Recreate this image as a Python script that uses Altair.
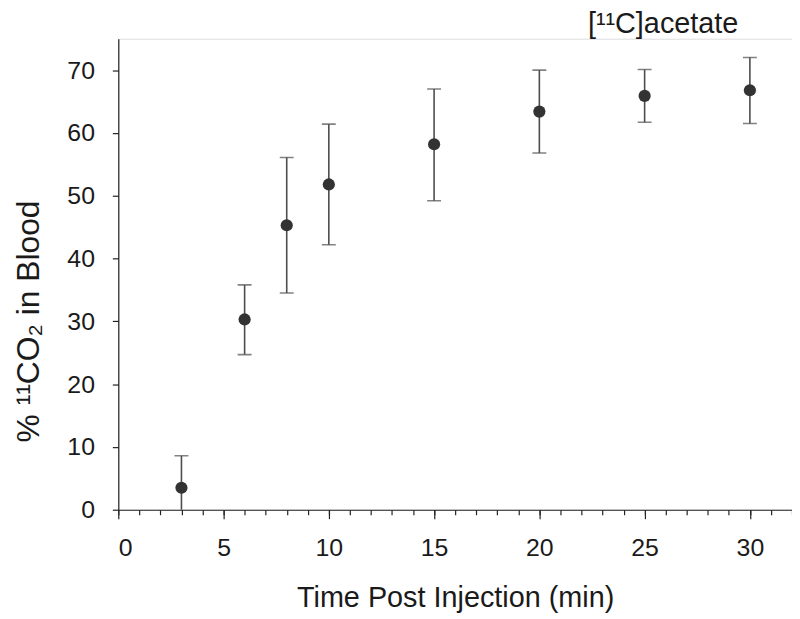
import altair as alt
import pandas as pd

# Data
times = [3, 6, 8, 10, 15, 20, 25, 30]
means = [3.5, 30.3, 45.3, 51.8, 58.2, 63.4, 65.9, 66.8]
uppers = [8.6, 35.8, 56.1, 61.4, 67.0, 70.0, 70.1, 72.0]
lowers = [-1.6, 24.7, 34.5, 42.2, 49.2, 56.8, 61.7, 61.5]

major_x_ticks = [0, 5, 10, 15, 20, 25, 30]
minor_x_ticks = list(range(0, 33))
y_ticks = [0, 10, 20, 30, 40, 50, 60, 70]

df = pd.DataFrame({"t": times, "mean": means, "hi": uppers, "lo": lowers})

FONT = "Liberation Sans"
TXT = "#1a1a1a"
BAR = "#4d4d4d"
DOT = "#333333"

xscale = alt.Scale(domain=[0, 32], nice=False, zero=False)
yscale = alt.Scale(domain=[0, 75], nice=False, zero=False)

major_axis = alt.Axis(
    orient="bottom", values=major_x_ticks, tickSize=9, tickWidth=1.2, tickColor="#222",
    domain=True, domainColor="#222", domainWidth=1.2, grid=False,
    labelFont=FONT, labelFontSize=25, labelColor=TXT, labelPadding=17,
    title="Time Post Injection (min)", titleFont=FONT, titleFontSize=29,
    titleFontWeight="normal", titleColor=TXT, titleY=97, titleBaseline="alphabetic",
)
minor_axis = alt.Axis(
    orient="bottom", values=minor_x_ticks, tickSize=5, tickWidth=1.2, tickColor="#222",
    domain=False, grid=False, labels=False, title=None,
)
yaxis = alt.Axis(
    orient="left", values=y_ticks, tickSize=6, tickWidth=1.2, tickColor="#222",
    domain=True, domainColor="#222", domainWidth=1.2, grid=False,
    labelFont=FONT, labelFontSize=25, labelColor=TXT, labelPadding=18,
    title="% ¹¹CO₂ in Blood", titleFont=FONT, titleFontSize=32,
    titleFontWeight="normal", titleColor=TXT, titleX=-80, titleY=284,
    titleBaseline="alphabetic", titleAngle=270,
)

base = alt.Chart(df)

rules = base.mark_rule(color=BAR, strokeWidth=1.6, clip=True).encode(
    x=alt.X("t:Q", scale=xscale, axis=major_axis),
    y=alt.Y("lo:Q", scale=yscale, axis=yaxis),
    y2="hi:Q",
)
caps_hi = base.mark_tick(orient="horizontal", size=14, thickness=1.6, color=BAR, clip=True).encode(
    x=alt.X("t:Q", scale=xscale, axis=minor_axis),
    y=alt.Y("hi:Q", scale=yscale, axis=yaxis),
)
caps_lo = base.mark_tick(orient="horizontal", size=14, thickness=1.6, color=BAR, clip=True).encode(
    x=alt.X("t:Q", scale=xscale, axis=None),
    y=alt.Y("lo:Q", scale=yscale, axis=yaxis),
)
points = base.mark_circle(size=150, color=DOT, opacity=1).encode(
    x=alt.X("t:Q", scale=xscale, axis=None),
    y=alt.Y("mean:Q", scale=yscale, axis=yaxis),
)

chart = (
    alt.layer(rules, caps_hi, caps_lo, points)
    .resolve_axis(x="independent", y="shared")
    .properties(
        width=678,
        height=474,
        autosize=alt.AutoSizeParams(type="none"),
        padding={"left": 111, "top": 29, "right": 0, "bottom": 103},
        title=alt.TitleParams(
            text="[¹¹C]acetate", anchor="end", frame="group", dx=-54, dy=27, offset=4,
            baseline="alphabetic", font=FONT, fontSize=29, fontWeight="normal", color=TXT,
        ),
    )
    .configure_view(strokeWidth=0, stroke="transparent")
    .configure(background="white")
)

chart.save("out.html", embed_options={"renderer": "svg", "actions": False})
